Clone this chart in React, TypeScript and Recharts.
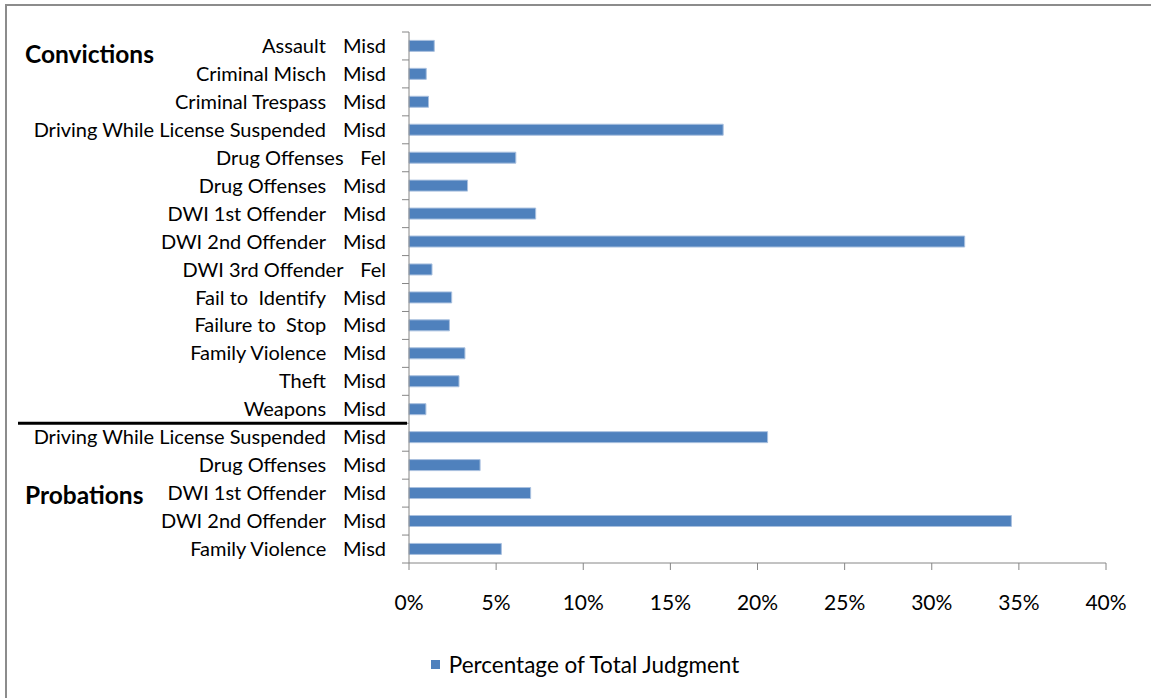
import React from "react";
import { BarChart, Bar, XAxis, YAxis, Legend } from "recharts";

const offenses = [
  "Assault", "Criminal Misch", "Criminal Trespass", "Driving While License Suspended",
  "Drug Offenses", "Drug Offenses", "DWI 1st Offender", "DWI 2nd Offender",
  "DWI 3rd Offender", "Fail to  Identify", "Failure to  Stop", "Family Violence",
  "Theft", "Weapons",
  "Driving While License Suspended", "Drug Offenses", "DWI 1st Offender",
  "DWI 2nd Offender", "Family Violence",
];
const levels = [
  "Misd", "Misd", "Misd", "Misd", "Fel", "Misd", "Misd", "Misd", "Fel", "Misd",
  "Misd", "Misd", "Misd", "Misd",
  "Misd", "Misd", "Misd", "Misd", "Misd",
];
const groups = [
  "Convictions", "Convictions", "Convictions", "Convictions", "Convictions",
  "Convictions", "Convictions", "Convictions", "Convictions", "Convictions",
  "Convictions", "Convictions", "Convictions", "Convictions",
  "Probations", "Probations", "Probations", "Probations", "Probations",
];
const percentages = [
  1.45, 0.99, 1.12, 18.03, 6.13, 3.36, 7.27, 31.89, 1.32, 2.45,
  2.32, 3.21, 2.87, 0.97,
  20.58, 4.08, 6.98, 34.57, 5.3,
];
const xTicks = [0, 5, 10, 15, 20, 25, 30, 35, 40];
const seriesName = "Percentage of Total Judgment";

const data = offenses.map((name, i) => ({
  key: `${i}`,
  name,
  level: levels[i],
  group: groups[i],
  value: percentages[i],
}));

const FONT = "Lato, 'Open Sans', sans-serif";
const AXIS = "#868686";
const BAR = "#4F81BD";

const CategoryTick = (props: any) => {
  const { x, y, index, payload, height, visibleTicksCount } = props;
  const row = data[Number(payload.value)] || data[index];
  const count = visibleTicksCount || data.length;
  const half = height / count / 2;
  const prev = index > 0 ? data[index - 1] : null;
  const isGroupStart = prev && prev.group !== row.group;
  const isLast = index === count - 1;
  return (
    <g>
      <line x1={x - 7} x2={x} y1={y - half} y2={y - half} stroke={AXIS} strokeWidth={1} />
      {isLast && (
        <line x1={x - 7} x2={x} y1={y + half} y2={y + half} stroke={AXIS} strokeWidth={1} />
      )}
      {isGroupStart && (
        <line x1={x - 391} x2={x - 2} y1={y - half} y2={y - half} stroke="#000" strokeWidth={3} />
      )}
      <text
        x={x - 23}
        y={y}
        dy="0.35em"
        textAnchor="end"
        fill="#000"
        fontSize={20}
        fontFamily={FONT}
        style={{ whiteSpace: "pre" }}
      >
        <tspan>{row.name}</tspan>
        <tspan dx={17}>{row.level}</tspan>
      </text>
    </g>
  );
};

const LegendContent = () => (
  <div
    style={{
      display: "flex",
      justifyContent: "center",
      alignItems: "center",
      height: 24,
      paddingLeft: 64,
      fontFamily: FONT,
      fontSize: 22.5,
      color: "#000",
    }}
  >
    <span style={{ display: "inline-block", width: 9, height: 9, background: BAR, marginRight: 9 }} />
    <span>{seriesName}</span>
  </div>
);

export default function App() {
  return (
    <div
      style={{
        position: "absolute",
        left: 0,
        top: 0,
        width: 1151,
        height: 698,
        background: "#fff",
        overflow: "hidden",
      }}
    >
      <div
        style={{
          position: "absolute",
          left: 5,
          top: 4,
          width: 1200,
          height: 750,
          borderTop: "2px solid #8c8c8c",
          borderLeft: "2px solid #8c8c8c",
        }}
      />
      <BarChart
        width={1151}
        height={698}
        data={data}
        layout="vertical"
        margin={{ top: 32, right: 45, bottom: 22, left: 0 }}
        barCategoryGap="30%"
        style={{ position: "absolute", left: 0, top: 0 }}
      >
        <XAxis
          type="number"
          domain={[0, 40]}
          ticks={xTicks}
          interval={0}
          tickFormatter={(v: number) => `${v}%`}
          stroke={AXIS}
          tickSize={7}
          tickMargin={25}
          height={89}
          tick={{ fill: "#000", fontSize: 21, fontFamily: FONT }}
        />
        <YAxis
          type="category"
          dataKey="key"
          width={409}
          stroke={AXIS}
          tickLine={false}
          tickSize={0}
          tickMargin={0}
          interval={0}
          tick={<CategoryTick />}
        />
        <Legend verticalAlign="bottom" content={<LegendContent />} />
        <Bar
          dataKey="value"
          name={seriesName}
          fill={BAR}
          stroke="#a9c0df"
          strokeWidth={1}
          isAnimationActive={false}
        />
      </BarChart>
      <div
        style={{
          position: "absolute",
          left: 25,
          top: 39,
          fontFamily: FONT,
          fontWeight: 700,
          fontSize: 24.5,
          color: "#000",
        }}
      >
        {groups[0]}
      </div>
      <div
        style={{
          position: "absolute",
          left: 25,
          top: 480,
          fontFamily: FONT,
          fontWeight: 700,
          fontSize: 24.5,
          color: "#000",
        }}
      >
        {groups[groups.length - 1]}
      </div>
    </div>
  );
}
